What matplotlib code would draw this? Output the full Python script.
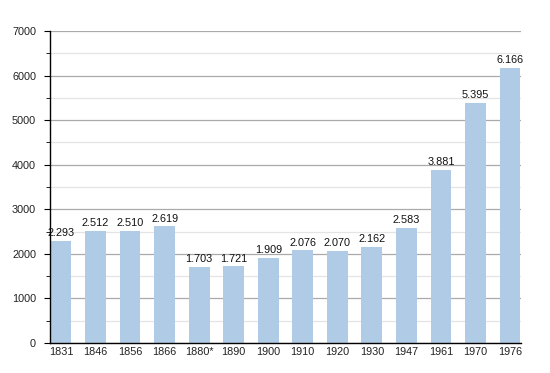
import matplotlib.pyplot as plt
from matplotlib.ticker import MultipleLocator

plt.rcParams["font.family"] = ["Liberation Sans", "DejaVu Sans"]

years = ["1831", "1846", "1856", "1866", "1880*", "1890", "1900", "1910",
         "1920", "1930", "1947", "1961", "1970", "1976"]
population = [2293, 2512, 2510, 2619, 1703, 1721, 1909, 2076,
              2070, 2162, 2583, 3881, 5395, 6166]

fig = plt.figure(figsize=(5.5, 3.73), dpi=100)
ax = fig.add_axes([50 / 550, 30 / 373, 471 / 550, 312 / 373])

x = range(len(years))
ax.bar(x, population, width=0.6, color="#b0cbe6", zorder=2)

for xi, v in zip(x, population):
    label = f"{v:,}".replace(",", ".")
    ax.text(xi, v + 60, label, ha="center", va="bottom", fontsize=7.8,
            color="#111111", zorder=3)

ax.set_xlim(-0.32, 13.32)
ax.set_ylim(0, 7000)
ax.set_xticks(list(x))
ax.set_xticklabels(years)
ax.yaxis.set_major_locator(MultipleLocator(1000))
ax.yaxis.set_minor_locator(MultipleLocator(500))

ax.grid(axis="y", which="major", color="#aaaaaa", linewidth=0.9, zorder=0)
ax.grid(axis="y", which="minor", color="#e4e4e4", linewidth=0.9, zorder=0)

for s in ["top", "right"]:
    ax.spines[s].set_visible(False)
ax.spines["left"].set_linewidth(1.0)
ax.spines["bottom"].set_linewidth(1.0)

ax.tick_params(axis="x", length=0, labelsize=7.8, labelcolor="#222222", pad=3)
ax.tick_params(axis="y", which="major", length=4, labelsize=7.8,
               labelcolor="#222222", pad=6)
ax.tick_params(axis="y", which="minor", length=3)

fig.savefig("out.png", dpi=100)
